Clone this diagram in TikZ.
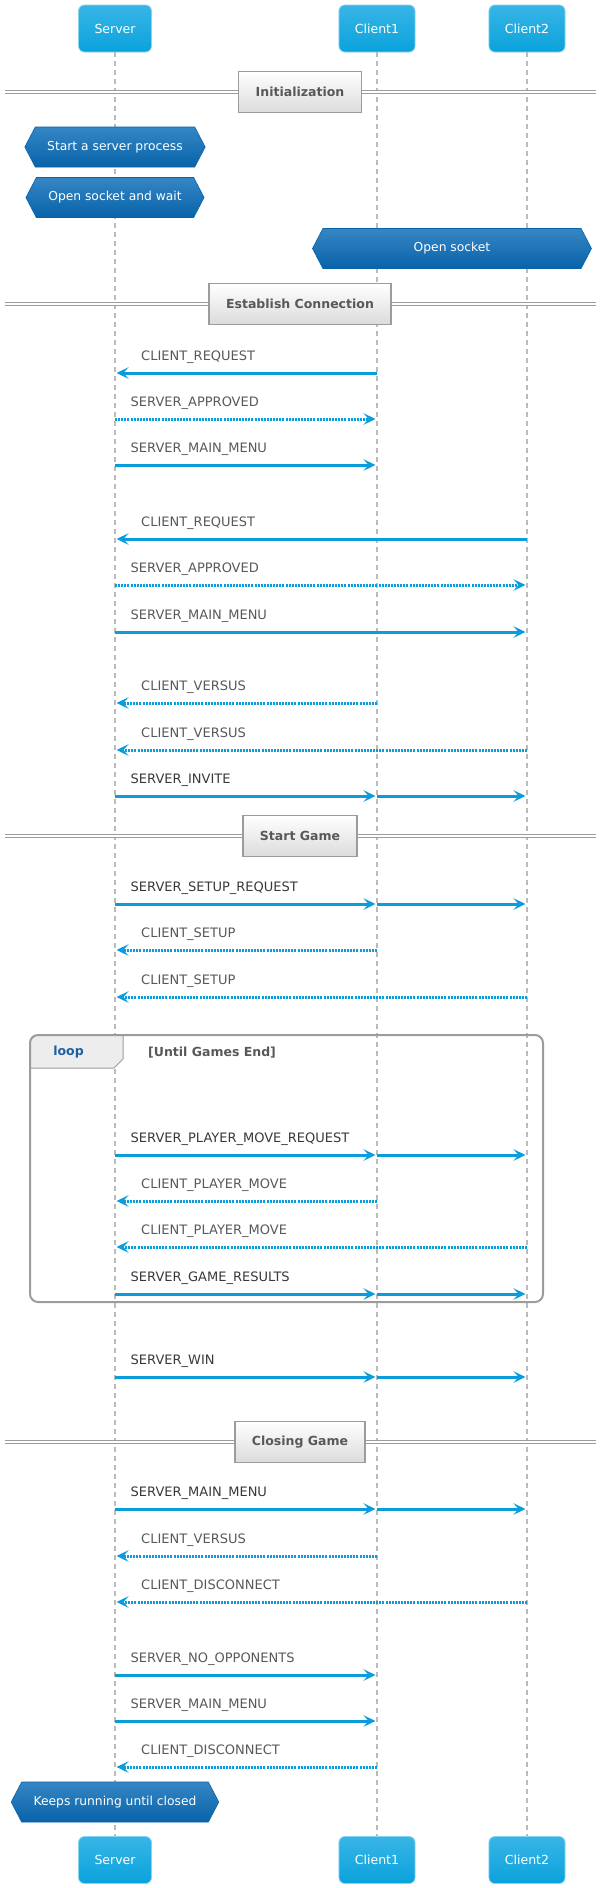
\documentclass[tikz,border=0pt]{standalone}
\usepackage{fontspec}
\setmainfont{DejaVu Sans}
\usetikzlibrary{arrows.meta,shapes.symbols}

\definecolor{arrowblue}{HTML}{0B9DDB}
\definecolor{parttop}{HTML}{38B5E6}
\definecolor{partbot}{HTML}{0AA2DC}
\definecolor{notetop}{HTML}{3586C4}
\definecolor{notebot}{HTML}{0863A9}
\definecolor{txtgray}{HTML}{585858}
\definecolor{txtdark}{HTML}{383838}
\definecolor{framegray}{HTML}{9C9C9C}
\definecolor{linegray}{HTML}{BBBBBB}
\definecolor{loopblue}{HTML}{1B5FA3}

\tikzset{
  participant/.style={rectangle, rounded corners=6pt, draw=parttop!60!white, line width=0.8pt,
    top color=parttop, bottom color=partbot, text=white,
    font=\fontsize{12.5}{15}\selectfont, inner xsep=16pt, minimum height=47pt},
  lifeline/.style={draw=linegray, line width=1.6pt, dash pattern=on 5pt off 4pt},
  divider/.style={rectangle, draw=framegray, line width=1.5pt, top color=white, bottom color=gray!28,
    text=txtgray, font=\bfseries\fontsize{12.5}{15}\selectfont, inner xsep=17pt, minimum height=41pt},
  sepline/.style={draw=framegray, double=white, double distance=2.3pt, line width=1pt},
  note/.style={signal, signal to=west and east, signal pointer angle=125, draw=notebot, line width=0.6pt,
    top color=notetop, bottom color=notebot, text=white,
    font=\fontsize{12.3}{15}\selectfont, inner xsep=12pt, minimum height=40pt},
  msg/.style={draw=arrowblue, line width=3pt, shorten >=1.5pt,
    -{Stealth[length=12pt, width=11.5pt, inset=5pt]}},
  reply/.style={msg, dash pattern=on 2pt off 1.1pt},
  lbl/.style={anchor=base west, text=txtgray, font=\fontsize{13}{15}\selectfont, inner sep=0pt},
  lbldark/.style={lbl, text=txtdark},
  loopframe/.style={draw=framegray, line width=2pt, rounded corners=8pt},
  looptab/.style={draw=framegray, line width=1pt, fill=gray!14},
}

\begin{document}
\begin{tikzpicture}[x=1pt, y=-1pt]
\useasboundingbox (0,0) rectangle (600,1888);

% Participants
\node[participant] (srvTop) at (115,28.5) {Server};
\node[participant] (c1Top) at (377,28.5) {Client1};
\node[participant] (c2Top) at (527,28.5) {Client2};
\node[participant] (srvBot) at (115,1860) {Server};
\node[participant] (c1Bot) at (377,1860) {Client1};
\node[participant] (c2Bot) at (527,1860) {Client2};

% Lifelines
\draw[lifeline] (srvTop) -- (srvBot);
\draw[lifeline] (c1Top) -- (c1Bot);
\draw[lifeline] (c2Top) -- (c2Bot);

% Message rows on the three lifelines
\foreach \r/\y in {1/373,2/419,3/465,4/539,5/585,6/632,7/703,8/750,9/796,10/904,11/950,12/997,
                   13/1155,14/1201,15/1247,16/1294,17/1377,18/1509,19/1556,20/1602,21/1675,22/1721,23/1767}{
  \coordinate (s\r) at (115,\y);
  \coordinate (a\r) at (377,\y);
  \coordinate (b\r) at (527,\y);
}

% Initialization
\coordinate (initL) at (5,92);
\coordinate (initR) at (596,92);
\draw[sepline] (initL) -- (initR);
\node[divider] (init) at (300,92) {Initialization};
\node[note] (startsrv) at (115,147) {Start a server process};
\node[note] (waitsrv) at (115,197.5) {Open socket and wait};
\node[note, minimum width=279pt] (opencl) at (452,248.5) {Open socket};

% Establish Connection
\coordinate (estL) at (5,304);
\coordinate (estR) at (596,304);
\draw[sepline] (estL) -- (estR);
\node[divider] (est) at (300,304) {Establish Connection};

\draw[msg] (a1) -- (s1);
\node[lbl] (t1) at (141,360.5) {CLIENT\_REQUEST};
\draw[reply] (s2) -- (a2);
\node[lbl] (t2) at (130.5,406.5) {SERVER\_APPROVED};
\draw[msg] (s3) -- (a3);
\node[lbl] (t3) at (130.5,452.5) {SERVER\_MAIN\_MENU};

\draw[msg] (b4) -- (s4);
\node[lbl] (t4) at (141,526.5) {CLIENT\_REQUEST};
\draw[reply] (s5) -- (b5);
\node[lbl] (t5) at (130.5,572.5) {SERVER\_APPROVED};
\draw[msg] (s6) -- (b6);
\node[lbl] (t6) at (130.5,619.5) {SERVER\_MAIN\_MENU};

\draw[reply] (a7) -- (s7);
\node[lbl] (t7) at (141,690.5) {CLIENT\_VERSUS};
\draw[reply] (b8) -- (s8);
\node[lbl] (t8) at (141,737.5) {CLIENT\_VERSUS};
\draw[msg] (s9) -- (a9);
\draw[msg] (a9) -- (b9);
\node[lbldark] (t9) at (130.5,783.5) {SERVER\_INVITE};

% Start Game
\coordinate (sgL) at (5,836);
\coordinate (sgR) at (596,836);
\draw[sepline] (sgL) -- (sgR);
\node[divider] (sg) at (300,836) {Start Game};

\draw[msg] (s10) -- (a10);
\draw[msg] (a10) -- (b10);
\node[lbldark] (t10) at (130.5,891.5) {SERVER\_SETUP\_REQUEST};
\draw[reply] (a11) -- (s11);
\node[lbl] (t11) at (141,937.5) {CLIENT\_SETUP};
\draw[reply] (b12) -- (s12);
\node[lbl] (t12) at (141,984.5) {CLIENT\_SETUP};

% Loop
\coordinate (loopNW) at (30,1035);
\coordinate (loopSE) at (543,1302);
\draw[looptab] (30,1068) [rounded corners=8pt] -- (loopNW) [sharp corners] -- (123,1035) -- (123,1059) -- (114,1068) -- cycle;
\draw[loopframe] (loopNW) rectangle (loopSE);
\node[font=\bfseries\fontsize{12.5}{15}\selectfont, text=loopblue] (loopkw) at (68.5,1052) {loop};
\node[anchor=west, font=\bfseries\fontsize{12.5}{15}\selectfont, text=txtgray, inner sep=0pt] (guard) at (148,1053) {[Until Games End]};

\draw[msg] (s13) -- (a13);
\draw[msg] (a13) -- (b13);
\node[lbldark] (t13) at (130.5,1142.5) {SERVER\_PLAYER\_MOVE\_REQUEST};
\draw[reply] (a14) -- (s14);
\node[lbl] (t14) at (141,1188.5) {CLIENT\_PLAYER\_MOVE};
\draw[reply] (b15) -- (s15);
\node[lbl] (t15) at (141,1234.5) {CLIENT\_PLAYER\_MOVE};
\draw[msg] (s16) -- (a16);
\draw[msg] (a16) -- (b16);
\node[lbldark] (t16) at (130.5,1281.5) {SERVER\_GAME\_RESULTS};

\draw[msg] (s17) -- (a17);
\draw[msg] (a17) -- (b17);
\node[lbldark] (t17) at (130.5,1364.5) {SERVER\_WIN};

% Closing Game
\coordinate (cgL) at (5,1442);
\coordinate (cgR) at (596,1442);
\draw[sepline] (cgL) -- (cgR);
\node[divider] (cg) at (300,1442) {Closing Game};

\draw[msg] (s18) -- (a18);
\draw[msg] (a18) -- (b18);
\node[lbldark] (t18) at (130.5,1496.5) {SERVER\_MAIN\_MENU};
\draw[reply] (a19) -- (s19);
\node[lbl] (t19) at (141,1543.5) {CLIENT\_VERSUS};
\draw[reply] (b20) -- (s20);
\node[lbl] (t20) at (141,1589.5) {CLIENT\_DISCONNECT};

\draw[msg] (s21) -- (a21);
\node[lbl] (t21) at (130.5,1662.5) {SERVER\_NO\_OPPONENTS};
\draw[msg] (s22) -- (a22);
\node[lbl] (t22) at (130.5,1708.5) {SERVER\_MAIN\_MENU};
\draw[reply] (a23) -- (s23);
\node[lbl] (t23) at (141,1754.5) {CLIENT\_DISCONNECT};

\node[note] (keeprun) at (115,1802) {Keeps running until closed};
\end{tikzpicture}
\end{document}
